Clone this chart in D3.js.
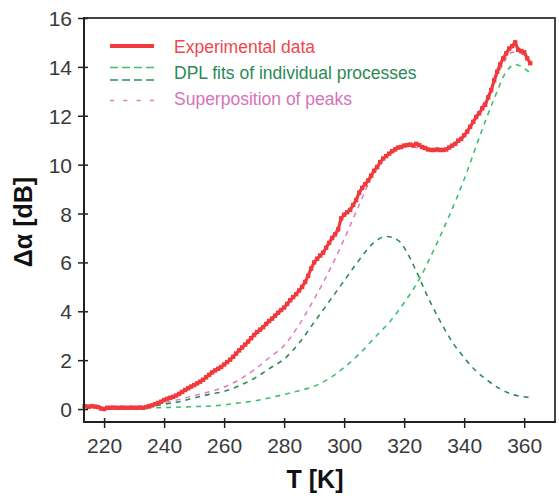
<!DOCTYPE html>
<html><head><meta charset="utf-8">
<script src="https://cdn.jsdelivr.net/npm/d3@7"></script>
<style>
html,body{margin:0;padding:0;background:#fff;}
svg{display:block;font-family:"Liberation Sans",Arial,sans-serif;}
</style></head>
<body>
<svg id="chart" width="559" height="498"></svg>
<script>
// ---- data ----
const expT = [213.5,215,216,217,218,219,220,221,222,223,224,225,226,227,228,229,230,231,232,233,234,235,236,237,238,239,240,241,242,243,244,245,246,247,248,249,250,251,252,253,254,255,256,257,258,259,260,261,262,263,264,265,266,267,268,269,270,271,272,273,274,275,276,277,278,279,280,281,282,283,284,285,286,287,288,289,290,291,292,293,294,295,296,297,298,299,300,301,302,303,304,305,306,307,308,309,310,311,312,313,314,315,316,317,318,319,320,321,322,323,324,325,326,327,328,329,330,331,332,333,334,335,336,337,338,339,340,341,342,343,344,345,346,347,348,349,350,351,352,353,354,355,356,357,358,359,360,361,362];
const expV = [0.12,0.1,0.12,0.1,0.08,0.02,0.0,0.05,0.05,0.06,0.05,0.05,0.06,0.05,0.05,0.06,0.05,0.05,0.06,0.05,0.08,0.12,0.15,0.2,0.25,0.3,0.37,0.42,0.46,0.5,0.55,0.62,0.7,0.78,0.85,0.92,0.98,1.05,1.12,1.2,1.3,1.4,1.5,1.58,1.65,1.72,1.82,1.92,2.02,2.14,2.27,2.4,2.52,2.64,2.76,2.9,3.03,3.15,3.25,3.35,3.48,3.6,3.7,3.82,3.94,4.05,4.15,4.3,4.45,4.58,4.7,4.85,5.0,5.2,5.45,5.75,6.0,6.15,6.28,6.4,6.6,6.8,7.0,7.15,7.35,7.8,7.95,8.05,8.15,8.35,8.55,8.85,9.05,9.2,9.35,9.55,9.75,9.9,10.1,10.25,10.35,10.45,10.55,10.62,10.7,10.72,10.78,10.8,10.82,10.78,10.85,10.8,10.72,10.68,10.62,10.6,10.6,10.62,10.6,10.6,10.62,10.7,10.78,10.85,10.98,11.05,11.2,11.35,11.55,11.75,11.95,12.1,12.3,12.45,12.75,13.05,13.45,13.8,14.1,14.35,14.55,14.75,14.85,15.0,14.7,14.65,14.6,14.35,14.15];

const fit1T = [214,220,230,235,240,245,250,255,260,265,270,275,280,285,290,295,300,305,310,314,318,321,324,328,332,336,340,344,348,352,356,360,362];
const fit1V = [0.05,0.05,0.06,0.1,0.2,0.3,0.45,0.6,0.72,0.95,1.25,1.65,2.05,2.7,3.55,4.4,5.25,6.1,6.82,7.06,6.9,6.4,5.65,4.55,3.6,2.75,2.1,1.55,1.15,0.82,0.6,0.5,0.47];

const fit2T = [214,230,240,250,256,260,265,270,275,280,285,290,295,300,305,310,315,320,325,330,335,340,345,350,354,357,359,361,362];
const fit2V = [0.03,0.04,0.06,0.1,0.13,0.17,0.25,0.33,0.45,0.6,0.75,0.93,1.25,1.7,2.25,2.9,3.55,4.35,5.3,6.55,7.9,9.4,11.1,12.7,13.8,14.1,14.02,13.85,13.75];

const sumT = [214,230,240,250,260,265,270,275,280,285,290,295,300,305,310,314,318,321,324,328,332,336,340,344,348,352,356,358,360,362];
const sumV = [0.08,0.1,0.26,0.55,0.9,1.2,1.6,2.1,2.6,3.45,4.5,5.65,6.95,8.35,9.7,10.35,10.75,10.8,10.7,10.6,10.62,10.8,11.25,12.0,12.85,13.9,14.6,14.6,14.45,14.2];

const xTicks = [220,240,260,280,300,320,340,360];
const yTicks = [0,2,4,6,8,10,12,14,16];
const legendLabels = ["Experimental data","DPL fits of individual processes","Superposition of peaks"];

// ---- chart ----
const svg = d3.select("#chart");
const L = 84, R = 556, T = 18, B = 422;
const x = d3.scaleLinear().domain([213.3, 370.6]).range([L, R]);
const y = d3.scaleLinear().domain([-0.53, 16]).range([B, T]);

const cRed = "#f03a3e", cG1 = "#2e8b57", cG2 = "#3cbf6e", cPink = "#dd7ac0";

// frame (top/right)
svg.append("path").attr("d", `M${L},${T}H${R-1}V${B}`).attr("fill","none").attr("stroke","#444").attr("stroke-width",2);

// lines
const line = (ts, vs) => d3.line().x((d,i)=>x(ts[i])).y((d,i)=>y(vs[i])).curve(d3.curveMonotoneX)(vs);
const g = svg.append("g");
g.append("path").attr("d", line(fit2T, fit2V)).attr("fill","none").attr("stroke",cG2).attr("stroke-width",1.6).attr("stroke-dasharray","5,5");
g.append("path").attr("d", line(fit1T, fit1V)).attr("fill","none").attr("stroke",cG1).attr("stroke-width",1.6).attr("stroke-dasharray","5,5");
g.append("path").attr("d", line(sumT, sumV)).attr("fill","none").attr("stroke",cPink).attr("stroke-width",1.5).attr("stroke-dasharray","5,5");

const linL = d3.line().x((d,i)=>x(expT[i])).y((d,i)=>y(expV[i]));
g.append("path").attr("d", linL(expV)).attr("fill","none").attr("stroke",cRed).attr("stroke-width",3.2);
g.selectAll("rect.m").data(expV).join("rect").attr("class","m")
  .attr("x",(d,i)=>x(expT[i])-2.2).attr("y",d=>y(d)-2.2).attr("width",4.4).attr("height",4.4).attr("fill",cRed);

// axes
const xa = svg.append("g").attr("transform",`translate(0,${B})`)
  .call(d3.axisBottom(x).tickValues(xTicks).tickSize(5).tickFormat(d3.format("d")));
const ya = svg.append("g").attr("transform",`translate(${L},0)`)
  .call(d3.axisLeft(y).tickValues(yTicks).tickSize(5).tickFormat(d3.format("d")));
[xa, ya].forEach(a=>{
  a.select(".domain").remove();
  a.selectAll(".tick line").attr("stroke","#222").attr("stroke-width",1.5);
  a.selectAll(".tick text").attr("fill","#3a3a3a").style("font-size","21px").style("font-family","'Liberation Sans',Arial,sans-serif");
});
xa.selectAll(".tick line").attr("y1",-4).attr("y2",6);
xa.selectAll(".tick text").attr("y",31).attr("dy",0);
ya.selectAll(".tick line").attr("x1",4).attr("x2",-6);
ya.selectAll(".tick text").attr("x",-12).attr("dy","0.36em");

svg.append("path").attr("d",`M${L},${T-1}V${B}H${R}`).attr("fill","none").attr("stroke","#222").attr("stroke-width",2);

// axis titles
svg.append("text").attr("x",315).attr("y",488).attr("text-anchor","middle")
  .style("font-size","25px").style("font-weight","bold").attr("fill","#111").text("T [K]");
svg.append("text").attr("transform","translate(32,222) rotate(-90)").attr("text-anchor","middle")
  .style("font-size","25px").style("font-weight","bold").attr("fill","#111").text("Δα [dB]");

// legend
const lg = svg.append("g");
lg.append("line").attr("x1",110).attr("x2",154).attr("y1",46).attr("y2",46).attr("stroke",cRed).attr("stroke-width",4);
lg.append("line").attr("x1",110).attr("x2",154).attr("y1",67.5).attr("y2",67.5).attr("stroke",cG2).attr("stroke-width",1.6).attr("stroke-dasharray","8,4");
lg.append("line").attr("x1",110).attr("x2",154).attr("y1",80).attr("y2",80).attr("stroke",cG1).attr("stroke-width",1.6).attr("stroke-dasharray","8,4");
lg.append("line").attr("x1",110).attr("x2",154).attr("y1",100.5).attr("y2",100.5).attr("stroke",cPink).attr("stroke-width",1.5).attr("stroke-dasharray","4,9.3");
const lcol = ["#f0474c", "#2a8a55", "#d672b8"];
const ly = [53, 79, 105];
legendLabels.forEach((t,i)=>{
  lg.append("text").attr("x",174).attr("y",ly[i]).style("font-size","17.5px").attr("fill",lcol[i]).text(t);
});
</script>
</body></html>
